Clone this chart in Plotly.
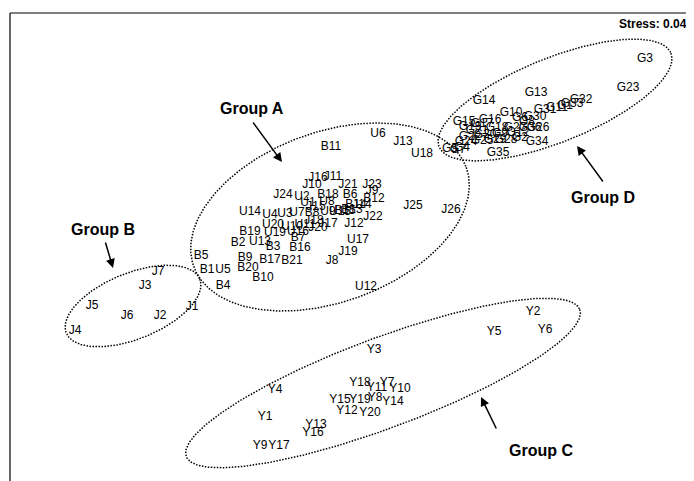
import numpy as np
import plotly.graph_objects as go

# NMDS site scores (plotted in screen-like units read from the ordination)
group_B_labels = ["J1", "J2", "J3", "J4", "J5", "J6", "J7"]
group_B_x = [192, 160, 145, 75, 92, 127, 158]
group_B_y = [307, 316, 286, 331, 306, 316, 272]

group_A_labels = ["B1", "B2", "B3", "B4", "B5", "B6", "B7", "B8", "B9", "B10", "B11", "B12", "B13", "B14",
                  "B15", "B16", "B17", "B18", "B19", "B20", "B21",
                  "U1", "U2", "U3", "U4", "U5", "U6", "U7", "U8", "U9", "U10", "U11", "U12", "U13", "U14",
                  "U15", "U16", "U17", "U18", "U19", "U20",
                  "J8", "J9", "J10", "J11", "J12", "J13", "J14", "J15", "J16", "J17", "J18", "J19", "J20",
                  "J21", "J22", "J23", "J24", "J25", "J26"]
group_A_x = [207, 238, 273, 223, 201, 350, 298, 312, 245, 263, 331, 374, 352, 356,
             345, 300, 270, 328, 250, 248, 292,
             308, 302, 285, 270, 223, 378, 297, 327, 328, 292, 305, 366, 260, 250,
             340, 298, 358, 422, 275, 273,
             332, 372, 312, 333, 354, 403, 362, 316, 318, 328, 314, 348, 318,
             348, 373, 372, 283, 413, 451]
group_A_y = [270, 243, 247, 286, 256, 195, 238, 213, 258, 278, 147, 199, 210, 205,
             211, 248, 260, 195, 232, 268, 261,
             203, 197, 214, 215, 270, 134, 213, 202, 212, 227, 225, 287, 242, 212,
             212, 232, 240, 154, 233, 225,
             261, 191, 185, 177, 224, 142, 205, 207, 178, 224, 221, 252, 228,
             185, 217, 185, 195, 206, 210]

group_C_labels = ["Y1", "Y2", "Y3", "Y4", "Y5", "Y6", "Y7", "Y8", "Y9", "Y10", "Y11", "Y12", "Y13",
                  "Y14", "Y15", "Y16", "Y17", "Y18", "Y19", "Y20"]
group_C_x = [265, 533, 374, 275, 494, 545, 387, 375, 260, 400, 377, 347, 316, 393, 340, 313, 279, 360, 360, 370]
group_C_y = [417, 312, 350, 390, 332, 330, 383, 398, 446, 389, 388, 411, 425, 402, 400, 433, 446, 383, 400, 413]

group_D_labels = ["G%d" % i for i in range(1, 37)]
group_D_x = [565, 520, 645, 462, 450, 520, 458, 527, 500, 511, 557, 518, 536, 484, 464, 490, 482, 497,
             470, 485, 477, 470, 628, 466, 482, 538, 515, 506, 495, 535, 545, 581, 572, 537, 498, 530]
group_D_y = [106, 138, 59, 148, 149, 118, 150, 122, 134, 113, 108, 133, 93, 101, 122, 120, 124, 128,
             127, 135, 131, 137, 88, 142, 141, 128, 128, 140, 140, 117, 110, 100, 104, 142, 153, 128]

# Group ellipses: centre x, centre y, semi-axis a, semi-axis b, tilt (deg)
ellipse_names = ["A", "B", "C", "D"]
ellipse_cx = [330, 133, 383, 555]
ellipse_cy = [217, 306, 383, 100]
ellipse_a = [145, 72, 210, 125]
ellipse_b = [85, 33, 45, 42]
ellipse_tilt = [20, 22, 20.5, 22]

# Group labels and arrows (label position, arrow tail, arrow head)
group_names = ["Group A", "Group B", "Group C", "Group D"]
group_label_x = [252, 103, 541, 603]
group_label_y = [108, 229, 450, 197]
arrow_tail_x = [252, 105, 497, 604]
arrow_tail_y = [121, 241, 430, 183]
arrow_head_x = [282, 113, 481, 577]
arrow_head_y = [162, 268, 397, 146]

W, H = 694, 481
OFF = 8  # default page body margin
FONT = "Liberation Sans, Arial, sans-serif"

fig = go.Figure()

all_labels = group_A_labels + group_B_labels + group_C_labels + group_D_labels
all_x = group_A_x + group_B_x + group_C_x + group_D_x
all_y = group_A_y + group_B_y + group_C_y + group_D_y

fig.add_trace(go.Scatter(
    x=all_x, y=all_y, text=all_labels, mode="text",
    textposition="middle center",
    textfont=dict(family=FONT, size=12, color="black"),
    hoverinfo="text", showlegend=False,
))

t = np.linspace(0, 2 * np.pi, 400)
for cx, cy, a, b, ang in zip(ellipse_cx, ellipse_cy, ellipse_a, ellipse_b, ellipse_tilt):
    th = np.deg2rad(ang)
    ex = cx + a * np.cos(t) * np.cos(th) + b * np.sin(t) * np.sin(th)
    ey = cy - a * np.cos(t) * np.sin(th) + b * np.sin(t) * np.cos(th)
    fig.add_trace(go.Scatter(
        x=ex, y=ey, mode="lines",
        line=dict(color="black", width=1.5, dash="1.5px,1.5px"),
        hoverinfo="skip", showlegend=False,
    ))

annotations = []
for name, lx, ly, tx, ty, hx, hy in zip(group_names, group_label_x, group_label_y,
                                         arrow_tail_x, arrow_tail_y, arrow_head_x, arrow_head_y):
    annotations.append(dict(x=lx, y=ly, xref="x", yref="y", text="<b>%s</b>" % name,
                            showarrow=False, font=dict(family=FONT, size=16, color="black")))
    annotations.append(dict(x=hx, y=hy, ax=tx, ay=ty, xref="x", yref="y", axref="x", ayref="y",
                            text="", showarrow=True, arrowhead=2, arrowsize=1.2, arrowwidth=1.5,
                            arrowcolor="black"))

annotations.append(dict(x=617, y=24, xref="x", yref="y", text="<b>Stress: 0.04</b>",
                        xanchor="left", showarrow=False,
                        font=dict(family=FONT, size=12, color="black")))

fig.update_layout(
    width=W - OFF, height=H - OFF,
    margin=dict(l=0, r=0, t=0, b=0),
    paper_bgcolor="white", plot_bgcolor="white",
    xaxis=dict(range=[OFF, W], visible=False, fixedrange=True),
    yaxis=dict(range=[H, OFF], visible=False, fixedrange=True),
    annotations=annotations,
    shapes=[
        dict(type="line", xref="x", yref="y", x0=10, y0=13, x1=10, y1=H, line=dict(color="black", width=1.2)),
        dict(type="line", xref="x", yref="y", x0=10, y0=13, x1=W, y1=13, line=dict(color="black", width=1.2)),
    ],
)

fig.write_html("out.html")
